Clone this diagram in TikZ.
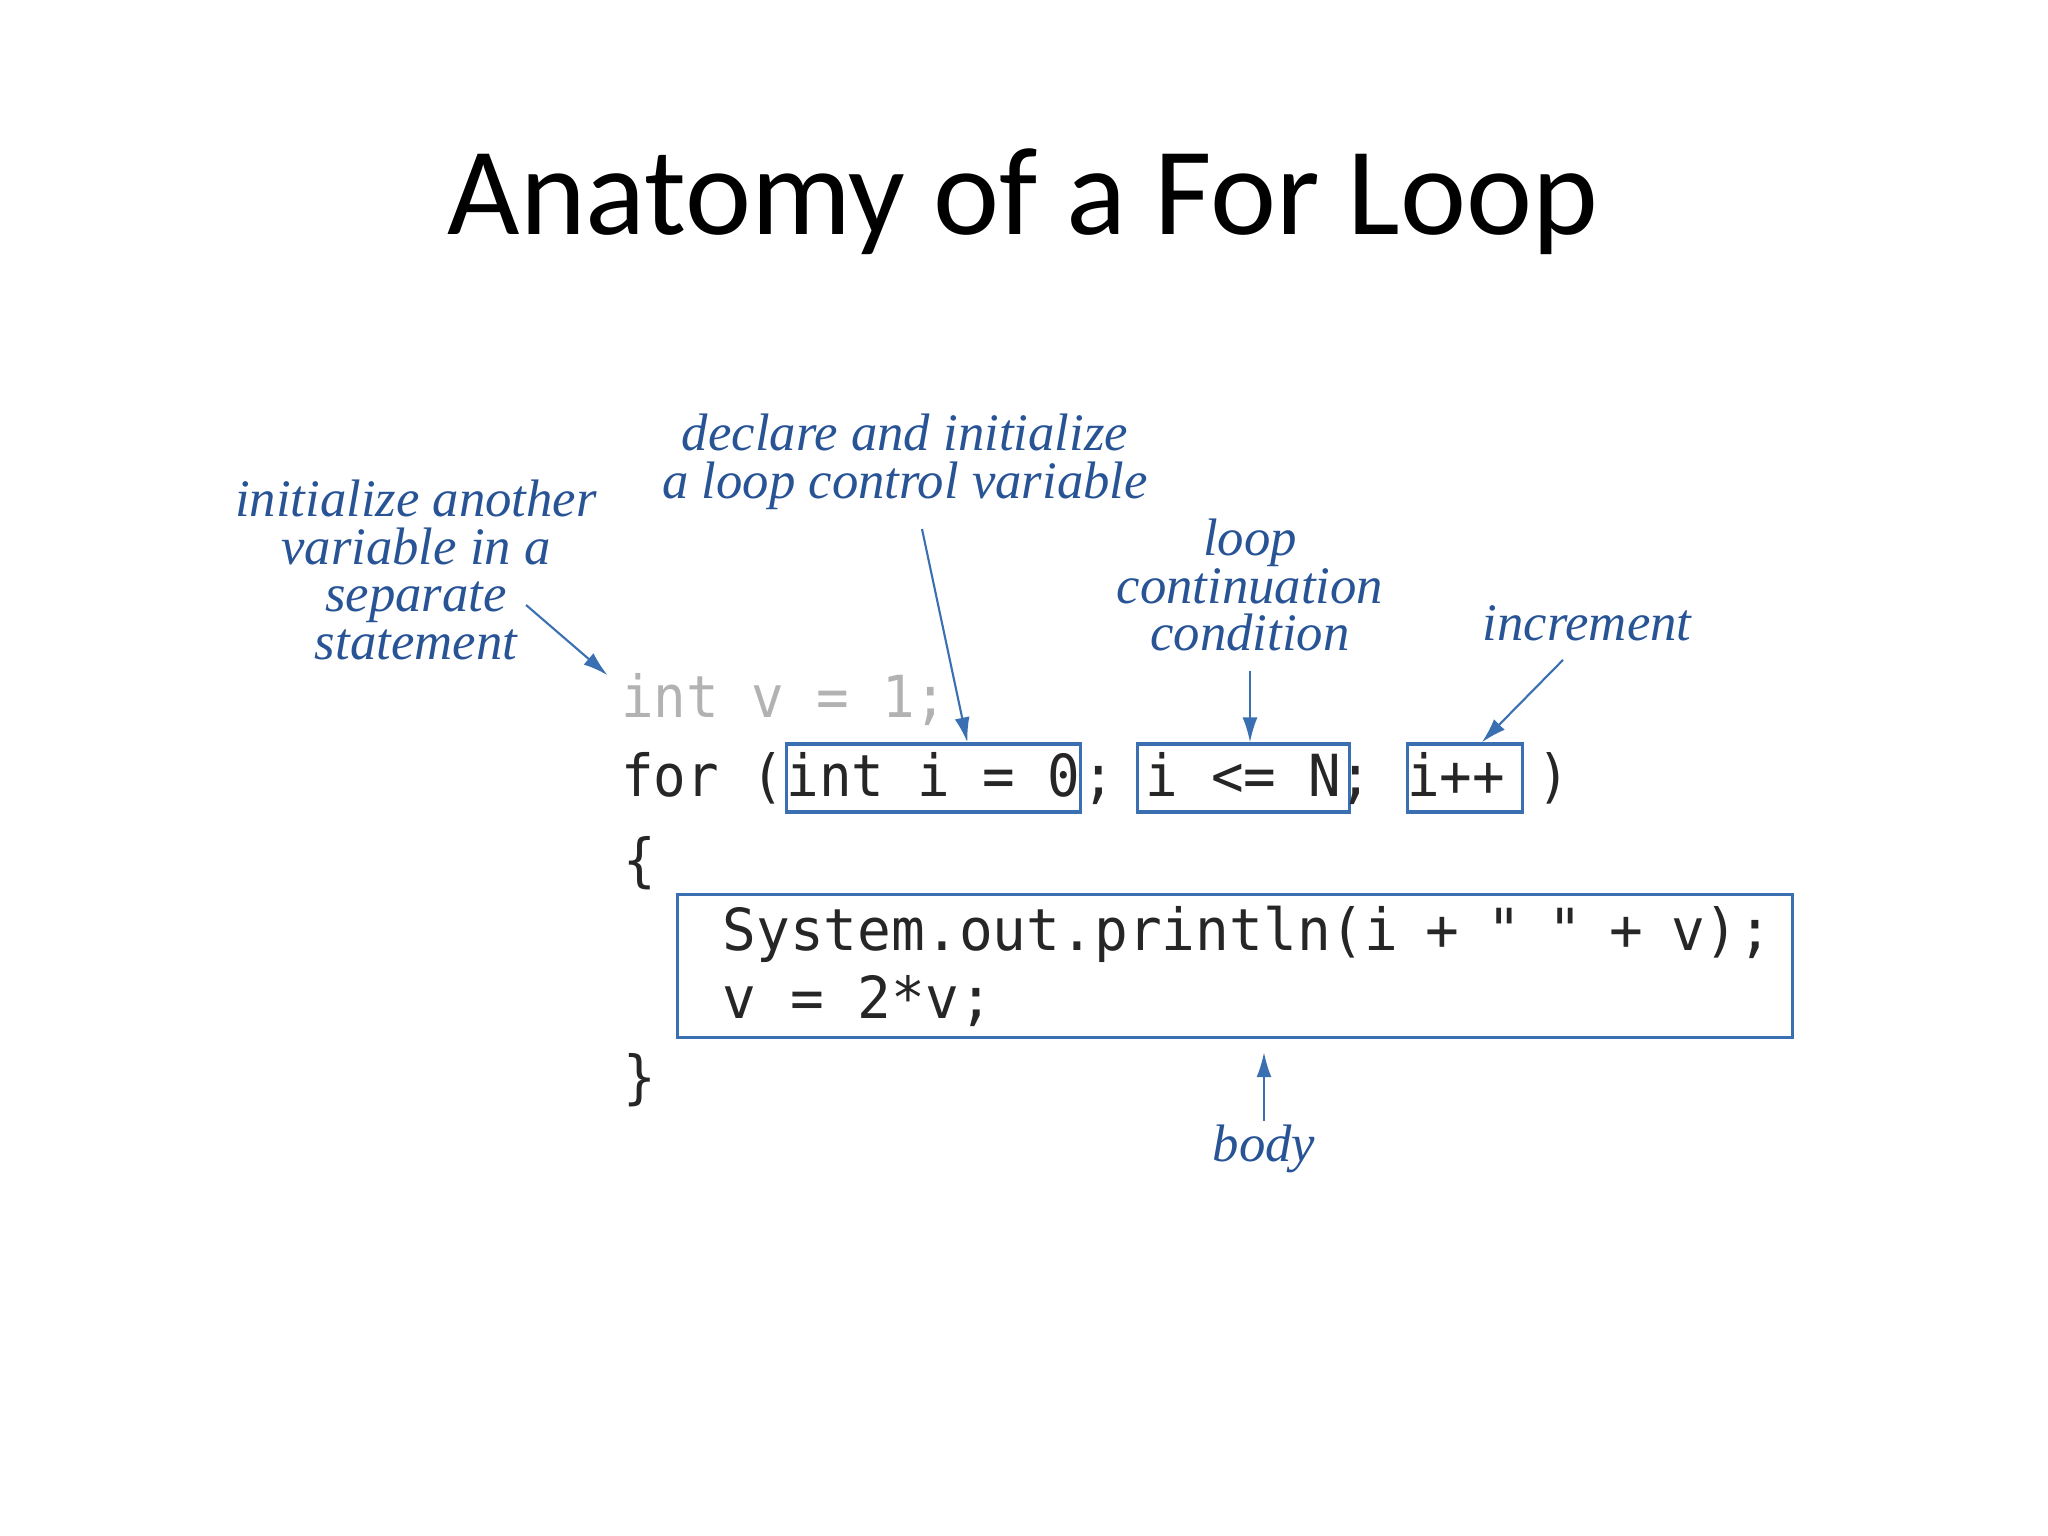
\documentclass[tikz,border=0pt]{standalone}
\usepackage{fontspec}
\newfontfamily\titlefont{Carlito}
\newfontfamily\notefont{Liberation Serif}
\newfontfamily\codefont[FakeStretch=0.934]{DejaVu Sans Mono}
\newfontfamily\bodyfont[FakeStretch=0.968]{DejaVu Sans Mono}
\usetikzlibrary{positioning,arrows.meta}
\tikzset{>={Latex[length=2.5mm,width=1.5mm]}}
\definecolor{notecol}{RGB}{40,84,150}
\definecolor{boxcol}{RGB}{58,112,178}
\definecolor{codecol}{RGB}{38,38,38}
\definecolor{fadecol}{RGB}{178,178,178}
\tikzset{
  note/.style={align=center,text=notecol,inner sep=1pt,
    font=\notefont\fontsize{15}{13.6}\selectfont\itshape},
  code/.style={text=codecol,inner sep=0pt,
    font=\codefont\fontsize{16.5}{19.3}\selectfont},
  codebox/.style={code,draw=boxcol,line width=0.9pt,inner xsep=0pt,
    inner ysep=0pt,text height=0.53cm,text depth=0.15cm},
  pointer/.style={->,draw=boxcol,line width=0.6pt},
}

\begin{document}
\begin{tikzpicture}
  \useasboundingbox (0,0) rectangle (20.48,-15.36);

  \node[font=\titlefont\fontsize{35.6}{42}\selectfont,anchor=base]
    (title) at (10.23,-2.35) {Anatomy of a For Loop};

  % CODE
  \node[code,text=fadecol,anchor=base west] (vdecl) at (6.206,-7.17) {int v = 1;};
  \node[code,anchor=base west] (for) at (6.206,-7.97) {for (};
  \node[codebox,base right=0pt of for] (init) {int i = 0};
  \node[code,base right=0pt of init] (semia) {;\ \mbox{}};
  \node[codebox,inner xsep=0.8mm,base right=-1.2mm of semia] (cond) {i <= N};
  \node[code,base right=-1.2mm of cond] (semib) {;\ \mbox{}};
  \node[codebox,base right=0pt of semib] (incr) {i++\kern1.7mm};
  \node[code,base right=-2mm of incr] (close) {\ )};
  \node[code,anchor=base west] (lbrace) at (6.23,-8.80) {\{};
  \node[code,font=\bodyfont\fontsize{16.5}{19.3}\selectfont,
        draw=boxcol,line width=0.9pt,anchor=north west,
        minimum width=11.15cm,minimum height=1.43cm,inner xsep=0.2cm,
        text width=10.75cm,align=left]
    (loopbody) at (6.76,-8.93)
    {\spaceskip=0pt\xspaceskip=0pt\hspace*{0.25cm}System.out.println(i + " " + v);\\
     \hspace*{0.25cm}v = 2*v;};
  \node[code,anchor=base west] (rbrace) at (6.23,-10.97) {\}};

  % NOTES
  \node[note] (sepnote) at (4.16,-5.70)
    {initialize another\\variable in a\\separate\\statement};
  \node[note] (declnote) at (9.05,-4.62)
    {declare and initialize\\a loop control variable};
  \node[note] (loopnote) at (12.50,-5.85) {loop\\continuation\\condition};
  \node[note] (incrnote) at (15.87,-6.23) {increment};
  \node[note] (bodynote) at (12.64,-11.49) {body};

  % POINTERS
  \draw[pointer] ([xshift=-7.5mm,yshift=-3.5mm]sepnote.east)
    -- ([xshift=-1.3mm,yshift=-0.3mm]vdecl.north west);
  \draw[pointer] ([xshift=1.7mm,yshift=-1.5mm]declnote.south)
    -- ([xshift=3.4mm]init.north);
  \draw[pointer,shorten <=1.5mm] (loopnote.south) -- (loopnote.south |- cond.north);
  \draw[pointer] ([xshift=-2.4mm,yshift=-1.5mm]incrnote.south)
    -- ([xshift=1.7mm]incr.north);
  \draw[pointer,shorten >=1.3mm] (bodynote.north) -- (bodynote.north |- loopbody.south);

\end{tikzpicture}
\end{document}
